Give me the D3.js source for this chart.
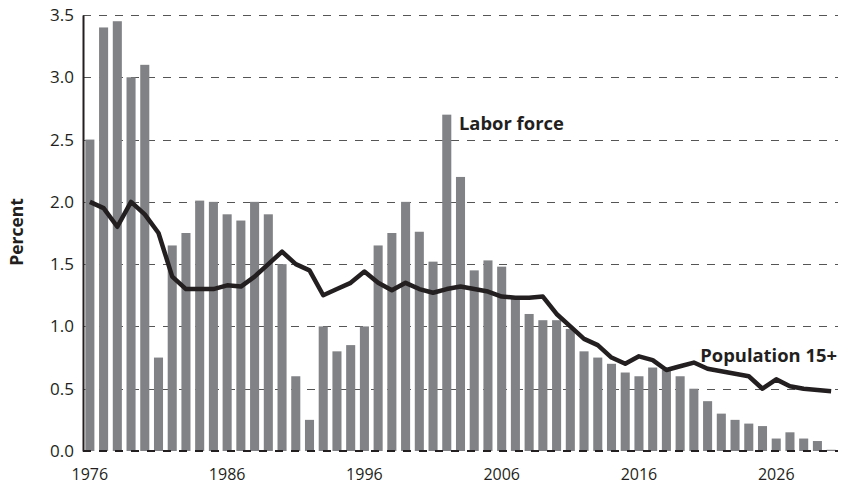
<!DOCTYPE html>
<html>
<head>
<meta charset="utf-8">
<script src="https://cdn.jsdelivr.net/npm/d3@7"></script>
<style>
  body { margin: 0; background: #fff; }
  text { font-family: "Open Sans", "Noto Sans", sans-serif; fill: #231f20; }
</style>
</head>
<body>
<div id="chart"></div>
<script>
// years on the x axis
const years = d3.range(1976, 2031);

// labor force growth, percent (bars)
const laborForce = [
    2.50, 3.40, 3.45, 3.00, 3.10, 0.75, 1.65, 1.75, 2.01, 2.00,
    1.90, 1.85, 2.00, 1.90, 1.50, 0.60, 0.25, 1.00, 0.80, 0.85,
    1.00, 1.65, 1.75, 2.00, 1.76, 1.52, 2.70, 2.20, 1.45, 1.53,
    1.48, 1.22, 1.10, 1.05, 1.05, 0.98, 0.80, 0.75, 0.70, 0.63,
    0.60, 0.67, 0.65, 0.60, 0.50, 0.40, 0.30, 0.25, 0.22, 0.20,
    0.10, 0.15, 0.10, 0.08, 0.01
];

// population 15+ growth, percent (line)
const population = [
    2.00, 1.95, 1.80, 2.00, 1.90, 1.75, 1.40, 1.30, 1.30, 1.30,
    1.33, 1.32, 1.40, 1.50, 1.60, 1.50, 1.45, 1.25, 1.30, 1.35,
    1.44, 1.35, 1.29, 1.35, 1.30, 1.27, 1.30, 1.32, 1.30, 1.28,
    1.24, 1.23, 1.23, 1.24, 1.10, 1.00, 0.90, 0.85, 0.75, 0.70,
    0.76, 0.73, 0.65, 0.68, 0.71, 0.66, 0.64, 0.62, 0.60, 0.50,
    0.575, 0.52, 0.50, 0.49, 0.48
];

const yTicks = [0, 0.5, 1.0, 1.5, 2.0, 2.5, 3.0, 3.5];
const xTicks = [1976, 1986, 1996, 2006, 2016, 2026];

const width = 841, height = 486;
const margin = { top: 15, right: 3, bottom: 35, left: 83 };

const svg = d3.select("#chart").append("svg")
    .attr("width", width).attr("height", height);

const x = d3.scaleBand()
    .domain(years)
    .range([margin.left, width - margin.right])
    .paddingInner(0.34)
    .paddingOuter(0.17);

const y = d3.scaleLinear()
    .domain([0, 3.5])
    .range([height - margin.bottom, margin.top]);

// gridlines (behind bars)
svg.append("g")
    .selectAll("line")
    .data(yTicks.filter(d => d > 0))
    .enter()
    .append("line")
    .attr("x1", margin.left)
    .attr("x2", width - margin.right)
    .attr("y1", d => Math.round(y(d)) + 0.5)
    .attr("y2", d => Math.round(y(d)) + 0.5)
    .attr("stroke", "#555")
    .attr("stroke-width", 1.2)
    .attr("stroke-dasharray", "8,8");

// bars
svg.append("g")
    .selectAll("rect")
    .data(years)
    .enter()
    .append("rect")
    .attr("x", d => x(d))
    .attr("width", x.bandwidth())
    .attr("y", (d, i) => y(laborForce[i]))
    .attr("height", (d, i) => y(0) - y(laborForce[i]))
    .attr("fill", "#808285");

// baseline, dashed like the grid
svg.append("line")
    .attr("x1", margin.left)
    .attr("x2", width - margin.right)
    .attr("y1", y(0))
    .attr("y2", y(0))
    .attr("stroke", "#231f20")
    .attr("stroke-width", 2)
    .attr("stroke-dasharray", "8,8");

// population line
const line = d3.line()
    .x((d, i) => x(years[i]) + x.bandwidth() / 2)
    .y(d => y(d));

svg.append("path")
    .datum(population)
    .attr("d", line)
    .attr("fill", "none")
    .attr("stroke", "#231f20")
    .attr("stroke-width", 4.5)
    .attr("stroke-linejoin", "round");

// axes
const yAxis = svg.append("g")
    .attr("transform", `translate(${margin.left},0)`)
    .call(d3.axisLeft(y).tickValues(yTicks).tickFormat(d3.format(".1f")).tickSize(0).tickPadding(9));
yAxis.select(".domain").attr("stroke", "#231f20").attr("stroke-width", 2);
yAxis.selectAll("text").style("font-size", "17px").attr("fill", "#231f20");

const xAxis = svg.append("g")
    .attr("transform", `translate(0,${y(0)})`)
    .call(d3.axisBottom(x).tickValues(xTicks).tickSize(0).tickPadding(18));
xAxis.select(".domain").remove();
xAxis.selectAll("text").style("font-size", "16px").attr("fill", "#231f20");

// y title
svg.append("text")
    .text("Percent")
    .attr("transform", `translate(23,232) rotate(-90)`)
    .attr("text-anchor", "middle")
    .style("font-size", "17.5px")
    .style("font-weight", "bold");

// series labels
svg.append("text")
    .text("Labor force")
    .attr("x", x(2003) + 3)
    .attr("y", y(2.7) + 15.5)
    .style("font-size", "18.4px")
    .style("font-weight", "bold");

svg.append("text")
    .text("Population 15+")
    .attr("x", width - margin.right - 1)
    .attr("y", y(0.717))
    .attr("text-anchor", "end")
    .style("font-size", "18.4px")
    .style("font-weight", "bold");
</script>
</body>
</html>
